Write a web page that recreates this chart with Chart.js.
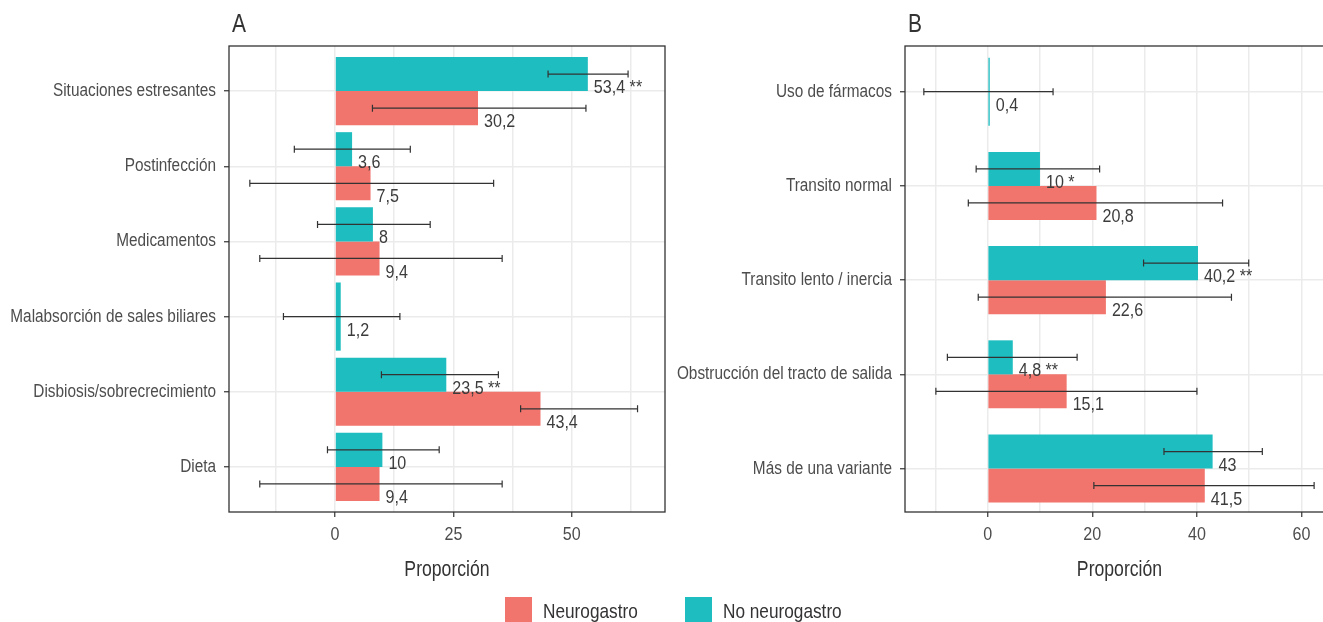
<!DOCTYPE html>
<html>
<head>
<meta charset="utf-8">
<script src="https://cdn.jsdelivr.net/npm/chart.js@4.4.1/dist/chart.umd.min.js"></script>
<style>
  html, body { margin: 0; padding: 0; background: #fff; }
  body { width: 1323px; height: 622px; overflow: hidden; position: relative;
         font-family: 'Liberation Sans', Arial, sans-serif; }
  #panelA { position: absolute; left: 0; top: 0; }
  #panelB { position: absolute; left: 660px; top: 0; }
  .key { position: absolute; top: 597px; height: 27px; display: flex; align-items: center;
         font-size: 21px; color: #333; white-space: nowrap; }
  .key i { display: inline-block; width: 27px; height: 27px; margin-right: 11px; flex: none; }
  .key span { display: inline-block; transform: scaleX(0.82); transform-origin: left center; }
</style>
</head>
<body>
<canvas id="panelA" width="680" height="600"></canvas>
<canvas id="panelB" width="700" height="600"></canvas>
<div class="key" style="left:505px"><i style="background:#F1746D"></i><span>Neurogastro</span></div>
<div class="key" style="left:685px"><i style="background:#1EBDC0"></i><span>No neurogastro</span></div>

<script>
// ---- Panel A: causas ----
const catsA = ['Situaciones estresantes', 'Postinfección', 'Medicamentos',
               'Malabsorción de sales biliares', 'Disbiosis/sobrecrecimiento', 'Dieta'];
const neuroA      = [30.2, 7.5, 9.4, null, 43.4, 9.4];
const neuroLoA    = [7.9, -18.0, -15.9, null, 39.2, -15.9];
const neuroHiA    = [53.0, 33.5, 35.3, null, 63.9, 35.3];
const noNeuroA    = [53.4, 3.6, 8, 1.2, 23.5, 10];
const noNeuroLoA  = [45.0, -8.6, -3.7, -10.9, 9.8, -1.6];
const noNeuroHiA  = [61.9, 15.9, 20.1, 13.7, 34.5, 22.0];
const sigA        = ['**', '', '', '', '**', ''];
const xTicksA     = [0, 25, 50];
const xMinorA     = [-12.5, 12.5, 37.5, 62.5];

// ---- Panel B: subtipos ----
const catsB = ['Uso de fármacos', 'Transito normal', 'Transito lento / inercia',
               'Obstrucción del tracto de salida', 'Más de una variante'];
const neuroB      = [null, 20.8, 22.6, 15.1, 41.5];
const neuroLoB    = [null, -3.7, -1.8, -9.9, 20.3];
const neuroHiB    = [null, 44.9, 46.6, 40.0, 62.4];
const noNeuroB    = [0.4, 10, 40.2, 4.8, 43];
const noNeuroLoB  = [-12.2, -2.2, 29.8, -7.7, 33.7];
const noNeuroHiB  = [12.5, 21.4, 49.9, 17.1, 52.5];
const sigB        = ['', '*', '**', '**', ''];
const xTicksB     = [0, 20, 40, 60];
const xMinorB     = [-10, 10, 30, 50];

const TEAL = '#1EBDC0';
const SALMON = '#F1746D';
const FONT = "'Liberation Sans', Arial, sans-serif";
const INK = '#333333';
const AXIS_TEXT = '#4D4D4D';
const GRID = '#EBEBEB';

const fmt = v => String(v).replace('.', ',');

// Narrow-set text: a horizontally compressed sans
function narrowText(ctx, txt, x, y, size, sx, align, color, baseline) {
  ctx.save();
  ctx.font = size + 'px ' + FONT;
  ctx.fillStyle = color;
  ctx.textAlign = align;
  ctx.textBaseline = baseline || 'middle';
  ctx.translate(x, y);
  ctx.scale(sx, 1);
  ctx.fillText(txt, 0, 0);
  ctx.restore();
}

// Error bars, value labels, axis text, panel frame and panel letter
function panelExtras(title, cats, majors, series) {
  return {
    id: 'panelExtras',
    afterDatasetsDraw(chart) {
      const ctx = chart.ctx, xs = chart.scales.x, ys = chart.scales.y, a = chart.chartArea;
      ctx.save();
      ctx.strokeStyle = INK;
      ctx.lineWidth = 1.2;
      series.forEach((s, d) => {
        const meta = chart.getDatasetMeta(d);
        s.values.forEach((v, i) => {
          if (v === null) return;
          const y = meta.data[i].y;
          const x0 = xs.getPixelForValue(s.lo[i]);
          const x1 = xs.getPixelForValue(s.hi[i]);
          ctx.beginPath();
          ctx.moveTo(x0, y); ctx.lineTo(x1, y);
          ctx.moveTo(x0, y - 3.5); ctx.lineTo(x0, y + 3.5);
          ctx.moveTo(x1, y - 3.5); ctx.lineTo(x1, y + 3.5);
          ctx.stroke();
        });
      });
      series.forEach((s, d) => {
        const meta = chart.getDatasetMeta(d);
        s.values.forEach((v, i) => {
          if (v === null) return;
          const y = meta.data[i].y;
          const txt = fmt(v) + (s.sig && s.sig[i] ? ' ' + s.sig[i] : '');
          narrowText(ctx, txt, xs.getPixelForValue(v) + 6, y + 14, 18.3, 0.88, 'left', '#3c3c3c');
        });
      });
      // frame
      ctx.strokeStyle = INK;
      ctx.lineWidth = 1.3;
      ctx.strokeRect(a.left, a.top, a.right - a.left, a.bottom - a.top);
      ctx.restore();

      // category labels
      cats.forEach((c, i) => {
        narrowText(ctx, c, a.left - 13, ys.getPixelForValue(i), 18.3, 0.84, 'right', AXIS_TEXT);
      });
      // value axis labels and title
      majors.forEach(v => {
        narrowText(ctx, String(v), xs.getPixelForValue(v), a.bottom + 23, 18.3, 0.88, 'center', AXIS_TEXT);
      });
      narrowText(ctx, 'Proporción', (a.left + Math.min(a.right, chart.width)) / 2 + (a.right > chart.width ? 0 : 0),
                 a.bottom + 58.5, 21.5, 0.82, 'center', INK);
      narrowText(ctx, title, a.left + 3, 32, 25, 0.84, 'left', INK, 'alphabetic');
    }
  };
}

function buildPanel(canvasId, cfg) {
  const majors = cfg.xTicks;
  const allX = cfg.xTicks.concat(cfg.xMinor).sort((p, q) => p - q);
  const series = [
    { values: cfg.noNeuro, lo: cfg.noNeuroLo, hi: cfg.noNeuroHi, sig: cfg.sig },
    { values: cfg.neuro,   lo: cfg.neuroLo,   hi: cfg.neuroHi }
  ];
  return new Chart(document.getElementById(canvasId), {
    type: 'bar',
    data: {
      datasets: [
        { label: 'No neurogastro', backgroundColor: TEAL,
          data: cfg.cats.map((c, i) => ({ x: cfg.noNeuro[i], y: i })) },
        { label: 'Neurogastro', backgroundColor: SALMON,
          data: cfg.cats.map((c, i) => ({ x: cfg.neuro[i], y: i })) }
      ]
    },
    options: {
      indexAxis: 'y',
      responsive: false,
      animation: false,
      devicePixelRatio: 1,
      events: [],
      datasets: { bar: { skipNull: true, categoryPercentage: cfg.catPct, barPercentage: 1,
                         borderWidth: 0, inflateAmount: 0 } },
      layout: { padding: { left: 0, right: cfg.padRight, top: 46, bottom: 0 } },
      plugins: { legend: { display: false }, tooltip: { enabled: false } },
      scales: {
        x: {
          type: 'linear', min: cfg.xMin, max: cfg.xMax,
          afterBuildTicks: s => { s.ticks = allX.map(v => ({ value: v })); },
          afterFit: s => { s.height = 88; },
          grid: { color: GRID, lineWidth: 1.5, tickLength: 5,
                  tickColor: c => majors.includes(c.tick && c.tick.value) ? INK : 'rgba(0,0,0,0)',
                  tickWidth: 1.2 },
          border: { display: false },
          ticks: { display: false },
          title: { display: false }
        },
        y: {
          type: 'linear', reverse: true, min: cfg.yMin, max: cfg.yMax,
          offset: false,
          afterBuildTicks: s => { s.ticks = cfg.cats.map((c, i) => ({ value: i })); },
          afterFit: s => { s.width = cfg.yWidth; },
          grid: { offset: false, color: GRID, lineWidth: 1.5, tickLength: 5, tickColor: INK, tickWidth: 1.2 },
          border: { display: false },
          ticks: { display: false }
        }
      }
    },
    plugins: [panelExtras(cfg.title, cfg.cats, majors, series)]
  });
}

buildPanel('panelA', {
  title: 'A', cats: catsA,
  neuro: neuroA, neuroLo: neuroLoA, neuroHi: neuroHiA,
  noNeuro: noNeuroA, noNeuroLo: noNeuroLoA, noNeuroHi: noNeuroHiA, sig: sigA,
  xTicks: xTicksA, xMinor: xMinorA, xMin: -22.4, xMax: 69.7,
  yMin: -0.6, yMax: 5.6, catPct: 0.907, yWidth: 229, padRight: 15
});

buildPanel('panelB', {
  title: 'B', cats: catsB,
  neuro: neuroB, neuroLo: neuroLoB, neuroHi: neuroHiB,
  noNeuro: noNeuroB, noNeuroLo: noNeuroLoB, noNeuroHi: noNeuroHiB, sig: sigB,
  xTicks: xTicksB, xMinor: xMinorB, xMin: -15.8, xMax: 66.2,
  yMin: -0.485, yMax: 4.461, catPct: 0.722, yWidth: 245, padRight: 26
});
</script>
</body>
</html>
